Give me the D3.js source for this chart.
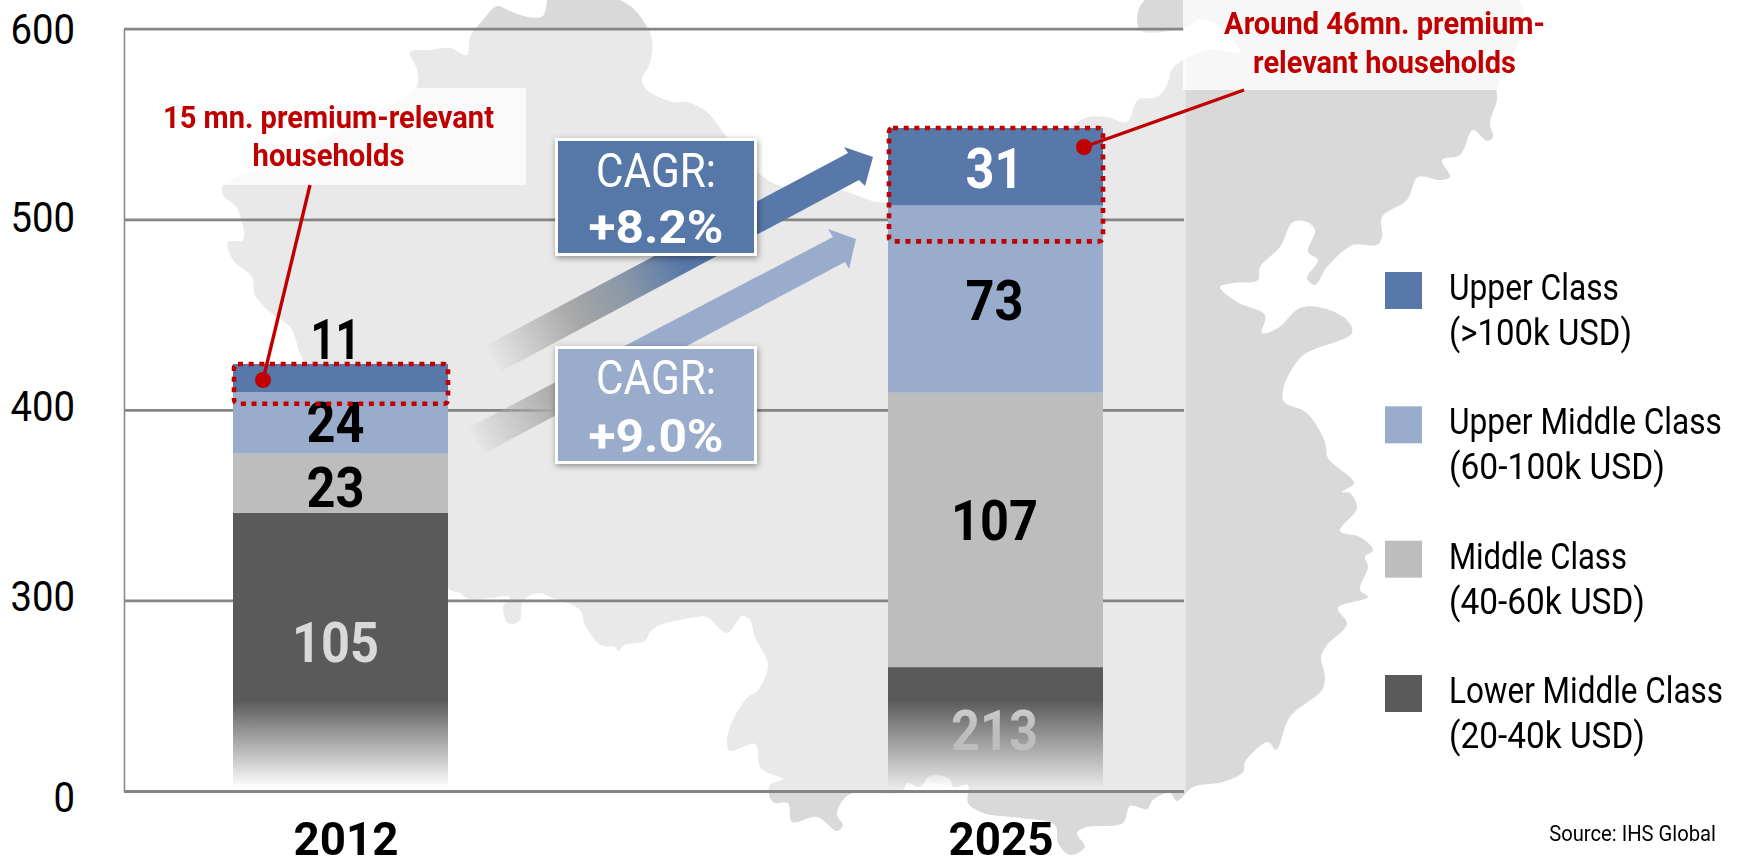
<!DOCTYPE html>
<html><head><meta charset="utf-8">
<script src="https://cdnjs.cloudflare.com/ajax/libs/d3/7.8.5/d3.min.js"></script>
<style>
html,body{margin:0;padding:0;background:#fff;overflow:hidden}
svg{display:block}
text{font-family:Roboto,"Liberation Sans",sans-serif}
</style></head><body>
<svg id="c" width="1739" height="858"></svg>
<script>
const years = ["2012","2025"];
const tickLabels = ["0","300","400","500","600"];
const lowerMiddle = [105,213];
const middle = [23,107];
const upperMiddle = [24,73];
const upper = [11,31];
const seriesNames = ["Lower Middle Class","Middle Class","Upper Middle Class","Upper Class"];
const seriesRanges = ["(20-40k USD)","(40-60k USD)","(60-100k USD)","(>100k USD)"];
const seriesColors = ["#5a5a5a","#bdbdbd","#9aaccb","#5778a8"];
const labelColors = [["#d9d9d9","#000","#000","#000"],["#d9d9d9","#000","#000","#fff"]];
const axisBreak = [-3.5,164.7];           // value units cut from the bottom of each broken bar
const premiumBox = [15.5,45];
const premiumText = [["15 mn. premium-relevant","households"],["Around 46mn. premium-","relevant households"]];
const cagrLabels = [["CAGR:","+8.2%"],["CAGR:","+9.0%"]];
const sourceText = "Source: IHS Global";

// decorative background silhouette
const mapOutline = [[547,0],[543,16],[528,17],[510,11],[497,6],[483,20],[470,37],[467,55],[450,48],[430,50],[410,52],[417,70],[416,88],
[340,130],[270,165],[223,185],[223,195],[237,208],[243,240],[228,242],[233,260],[252,277],[255,295],[270,312],[290,327],[303,360],
[380,480],[449,589],[460,593],[468,599],[490,598],[510,597],[503,607],[507,622],[512,624],[520,620],[522,603],[530,595],[543,594],[553,598],[580,610],[585,625],[597,642],[603,646],[615,647],[618,651],[625,645],[645,641],[650,632],[660,625],[697,617],[707,617],[727,633],[742,616],[750,620],[755,637],[768,665],[758,690],[747,698],[733,720],[727,740],[730,751],[755,744],[760,767],[768,773],[783,779],[770,785],[770,798],[775,803],[788,803],[792,822],[817,817],[837,831],[843,825],[837,815],[843,800],[853,793],[880,793],[895,793],[903,790],[908,783],[920,787],[930,776],[950,779],[953,787],[968,785],[968,803],[983,813],[1020,818],[1055,825],[1058,843],[1070,855],[1085,847],[1077,833],[1087,827],[1123,823],[1130,806],[1147,809],[1153,800],[1170,793],[1177,801],[1193,787],[1223,782],[1243,772],[1245,762],[1268,742],[1276,750],[1290,717],[1322,690],[1325,677],[1321,657],[1327,645],[1347,624],[1338,608],[1368,597],[1360,590],[1368,567],[1365,557],[1373,550],[1360,537],[1340,531],[1357,508],[1350,493],[1342,492],[1354,483],[1328,458],[1325,442],[1307,413],[1283,400],[1300,358],[1352,333],[1347,320],[1323,308],[1300,308],[1278,328],[1262,333],[1265,315],[1237,302],[1220,287],[1233,283],[1258,280],[1260,267],[1280,247],[1293,222],[1307,222],[1315,230],[1308,252],[1318,260],[1307,278],[1315,285],[1327,267],[1353,245],[1377,245],[1382,237],[1382,217],[1407,200],[1418,177],[1440,180],[1450,177],[1442,160],[1460,155],[1473,130],[1487,141],[1493,137],[1490,123],[1497,100],[1497,90],[1510,60],[1520,40],[1518,0],[1145,0],[1140,30],[1187,27],[1200,19],[1217,25],[1240,52],[1207,50],[1173,68],[1167,85],[1157,97],[1138,100],[1127,122],[1107,117],[1088,117],[1073,125],[1000,170],[887,203],[840,190],[773,183],[727,137],[707,112],[687,102],[673,102],[647,90],[642,80],[650,63],[652,40],[647,27],[633,8],[620,0]];

const svg = d3.select("#c");
const defs = svg.append("defs");
const red = "#c00000";

// condensed face: the installed fonts have no narrow cut, so each string is squeezed to the width it has in the picture
function squeeze(node,w,tx,ty){
  const sx=w/node.getComputedTextLength();
  d3.select(node).attr("x",0).attr("y",0).attr("dy",0).attr("transform",`translate(${tx},${ty}) scale(${sx},1)`);
}
function label(parent,tx,ty,str,o){
  const t=parent.append("text").attr("text-anchor",o.anchor||"start")
    .style("font-size",o.size+"px").style("font-weight",o.weight||400).attr("fill",o.fill||"#000").text(str);
  squeeze(t.node(),o.width,tx,ty);
  return t;
}

const x = d3.scaleBand().domain(years).range([233,1103]).paddingInner(440/655);
const gridY = d3.scalePoint().domain(tickLabels).range([791,28.7]);
const y = d3.scaleLinear().domain([0,258.5]).range([791,128]).clamp(true);
const plotLeft = 124, plotRight = 1184;

// map
svg.append("path").attr("d", d3.line().curve(d3.curveCatmullRom.alpha(0.5))(mapOutline)).attr("fill","#d9d9d9");
svg.append("rect").attr("x",plotLeft).attr("y",gridY("600")).attr("width",plotRight+1.5-plotLeft).attr("height",gridY("0")-gridY("600")).attr("fill","#fff").attr("fill-opacity",0.42);

// axes
const axisG = svg.append("g").attr("transform",`translate(${plotLeft},0)`)
  .call(d3.axisLeft(gridY).tickSize(-(plotRight-plotLeft)).tickPadding(0));
axisG.select(".domain").attr("stroke","#8c8c8c").attr("stroke-width",1.6);
axisG.selectAll(".tick line").attr("stroke","#858585").attr("stroke-width",2.8);
const tickBase = {"0":811.7,"300":610.7,"400":420,"500":231,"600":43};
axisG.selectAll(".tick text").attr("text-anchor","end")
  .style("font-size","42px").attr("fill","#000")
  .each(function(d){ squeeze(this,d.length*21.5,75-plotLeft,tickBase[d]-gridY(d)); });

// arrows
function arrowGrad(id,p0,p1,stops){
  const g=defs.append("linearGradient").attr("id",id).attr("gradientUnits","userSpaceOnUse")
    .attr("x1",p0[0]).attr("y1",p0[1]).attr("x2",p1[0]).attr("y2",p1[1]);
  stops.forEach(s=>g.append("stop").attr("offset",s[0]).attr("stop-color",s[1]).attr("stop-opacity",s[2]));
}
arrowGrad("ga",[492,358],[690,255],[[0,"#8a8a8a",0.02],[0.08,"#8a8a8a",0.15],[0.41,"#8a8a8a",0.68],[0.68,"#8a97a8",1],[0.95,seriesColors[3],1]]);
arrowGrad("gb",[474,440],[625,362],[[0,"#a8a8a8",0.02],[0.09,"#a8a8a8",0.2],[0.32,"#a8a8a8",0.57],[0.52,"#ababab",0.97],[1,seriesColors[2],1]]);
const arrowA=[[487,345],[848,153],[844,147],[873,157],[865,186],[859,180],[500,372]];
const arrowB=[[468,428],[833,237],[828,229],[856,239],[849,269],[845,262],[485,453]];
svg.append("path").attr("d",d3.line()(arrowA)+"Z").attr("fill","url(#ga)");
svg.append("path").attr("d",d3.line()(arrowB)+"Z").attr("fill","url(#gb)");

// fade
const fade=defs.append("linearGradient").attr("id","fg").attr("gradientUnits","userSpaceOnUse").attr("x1",0).attr("x2",0).attr("y1",700).attr("y2",788);
fade.append("stop").attr("offset",0).attr("stop-color","#fff").attr("stop-opacity",1);
fade.append("stop").attr("offset",1).attr("stop-color","#fff").attr("stop-opacity",0);
const mask=defs.append("mask").attr("id","fm").attr("maskUnits","userSpaceOnUse").attr("x",0).attr("y",0).attr("width",1739).attr("height",858);
mask.append("rect").attr("width",1739).attr("height",858).attr("fill","url(#fg)");

// bars
const stackSeries=[lowerMiddle,middle,upperMiddle,upper];
const barsG=svg.append("g").attr("mask","url(#fm)");
const labelsG=svg.append("g").attr("mask","url(#fm)");
years.forEach((yr,i)=>{
  let cum=-axisBreak[i];
  stackSeries.forEach((s,k)=>{
    const y0=k===0?y(0):y(cum);
    const y1=y(cum+s[i]);
    barsG.append("rect").attr("x",x(yr)).attr("width",x.bandwidth()).attr("y",y1).attr("height",y0-y1).attr("fill",seriesColors[k]);
    cum+=s[i];
  });
});
const labelBase=[[662,507,442,359],[750,540,320,188]];
const labelX=[-5,-1];
years.forEach((yr,i)=>{
  stackSeries.forEach((s,k)=>{
    const str=String(s[i]);
    label(labelsG,x(yr)+x.bandwidth()/2+labelX[i],labelBase[i][k],str,{anchor:"middle",weight:700,size:56,fill:labelColors[i][k],width:str==="11"?50:str.length*29});
  });
});

// year labels
const xAxisG=svg.append("g").attr("transform",`translate(0,855)`).call(d3.axisBottom(x).tickSize(0).tickPadding(0));
xAxisG.select(".domain").remove();
xAxisG.selectAll(".tick text").style("font-weight","700").style("font-size","47px").attr("fill","#000")
  .each(function(){ squeeze(this,105,5.5,0); });

// CAGR boxes
const shadow=defs.append("filter").attr("id","sh").attr("x","-20%").attr("y","-20%").attr("width","140%").attr("height","140%");
shadow.append("feDropShadow").attr("dx",1).attr("dy",2).attr("stdDeviation",3).attr("flood-color","#000").attr("flood-opacity",0.4);
const cagrY=[138,346], cagrFill=[seriesColors[3],seriesColors[2]], cagrBase=[[187,243],[394,452]];
cagrY.forEach((cy,i)=>{
  svg.append("rect").attr("x",556.5).attr("y",cy+1.5).attr("width",199).attr("height",115).attr("fill",cagrFill[i]).attr("stroke","#fff").attr("stroke-width",3).attr("filter","url(#sh)");
  label(svg,656,cagrBase[i][0],cagrLabels[i][0],{anchor:"middle",size:49,fill:"#fff",width:120});
  label(svg,656,cagrBase[i][1],cagrLabels[i][1],{anchor:"middle",size:47,weight:700,fill:"#fff",width:135});
});

// annotation boxes
svg.append("rect").attr("x",160).attr("y",88).attr("width",366).attr("height",97).attr("fill","#fff").attr("fill-opacity",0.78);
svg.append("rect").attr("x",1183).attr("y",0).attr("width",362).attr("height",90).attr("fill","#fff").attr("fill-opacity",0.79);
const textBase=[[128,166],[34,72.7]], textX=[328.5,1384.5], textW=[[331,152],[321,263]];
premiumText.forEach((ls,i)=>ls.forEach((t,j)=>{
  label(svg,textX[i],textBase[i][j],t,{anchor:"middle",weight:700,size:32,fill:red,width:textW[i][j]});
}));
const leaders=[[[310,185],[263,380]],[[1244,90],[1084,147]]];
leaders.forEach(l=>{
  svg.append("path").attr("d",d3.line()(l)).attr("stroke",red).attr("stroke-width",3.4).attr("fill","none");
  svg.append("circle").attr("cx",l[1][0]).attr("cy",l[1][1]).attr("r",8).attr("fill",red);
});
years.forEach((yr,i)=>{
  const top=-axisBreak[i]+lowerMiddle[i]+middle[i]+upperMiddle[i]+upper[i];
  const yt=y(top), yb=y(top-premiumBox[i]);
  svg.append("rect").attr("x",x(yr)+1).attr("y",yt).attr("width",x.bandwidth()-1).attr("height",yb-yt).attr("rx",4)
    .attr("fill","none").attr("stroke",red).attr("stroke-width",4.6).attr("stroke-dasharray","5 5.67");
});

// legend
const legendY=d3.scalePoint().domain(seriesNames.slice().reverse()).range([272,675]);
const nameW=[274,178,273,170], rangeW=[196,196,216,183];
seriesNames.forEach((n,k)=>{
  const ly=legendY(n);
  svg.append("rect").attr("x",1385).attr("y",ly).attr("width",37).attr("height",37).attr("fill",seriesColors[k]);
  label(svg,1449,ly+28,n,{size:37,width:nameW[k]});
  label(svg,1449,ly+73,seriesRanges[k],{size:37,width:rangeW[k]});
});
label(svg,1716,840.7,sourceText,{anchor:"end",size:22,width:167});
</script>
</body></html>
